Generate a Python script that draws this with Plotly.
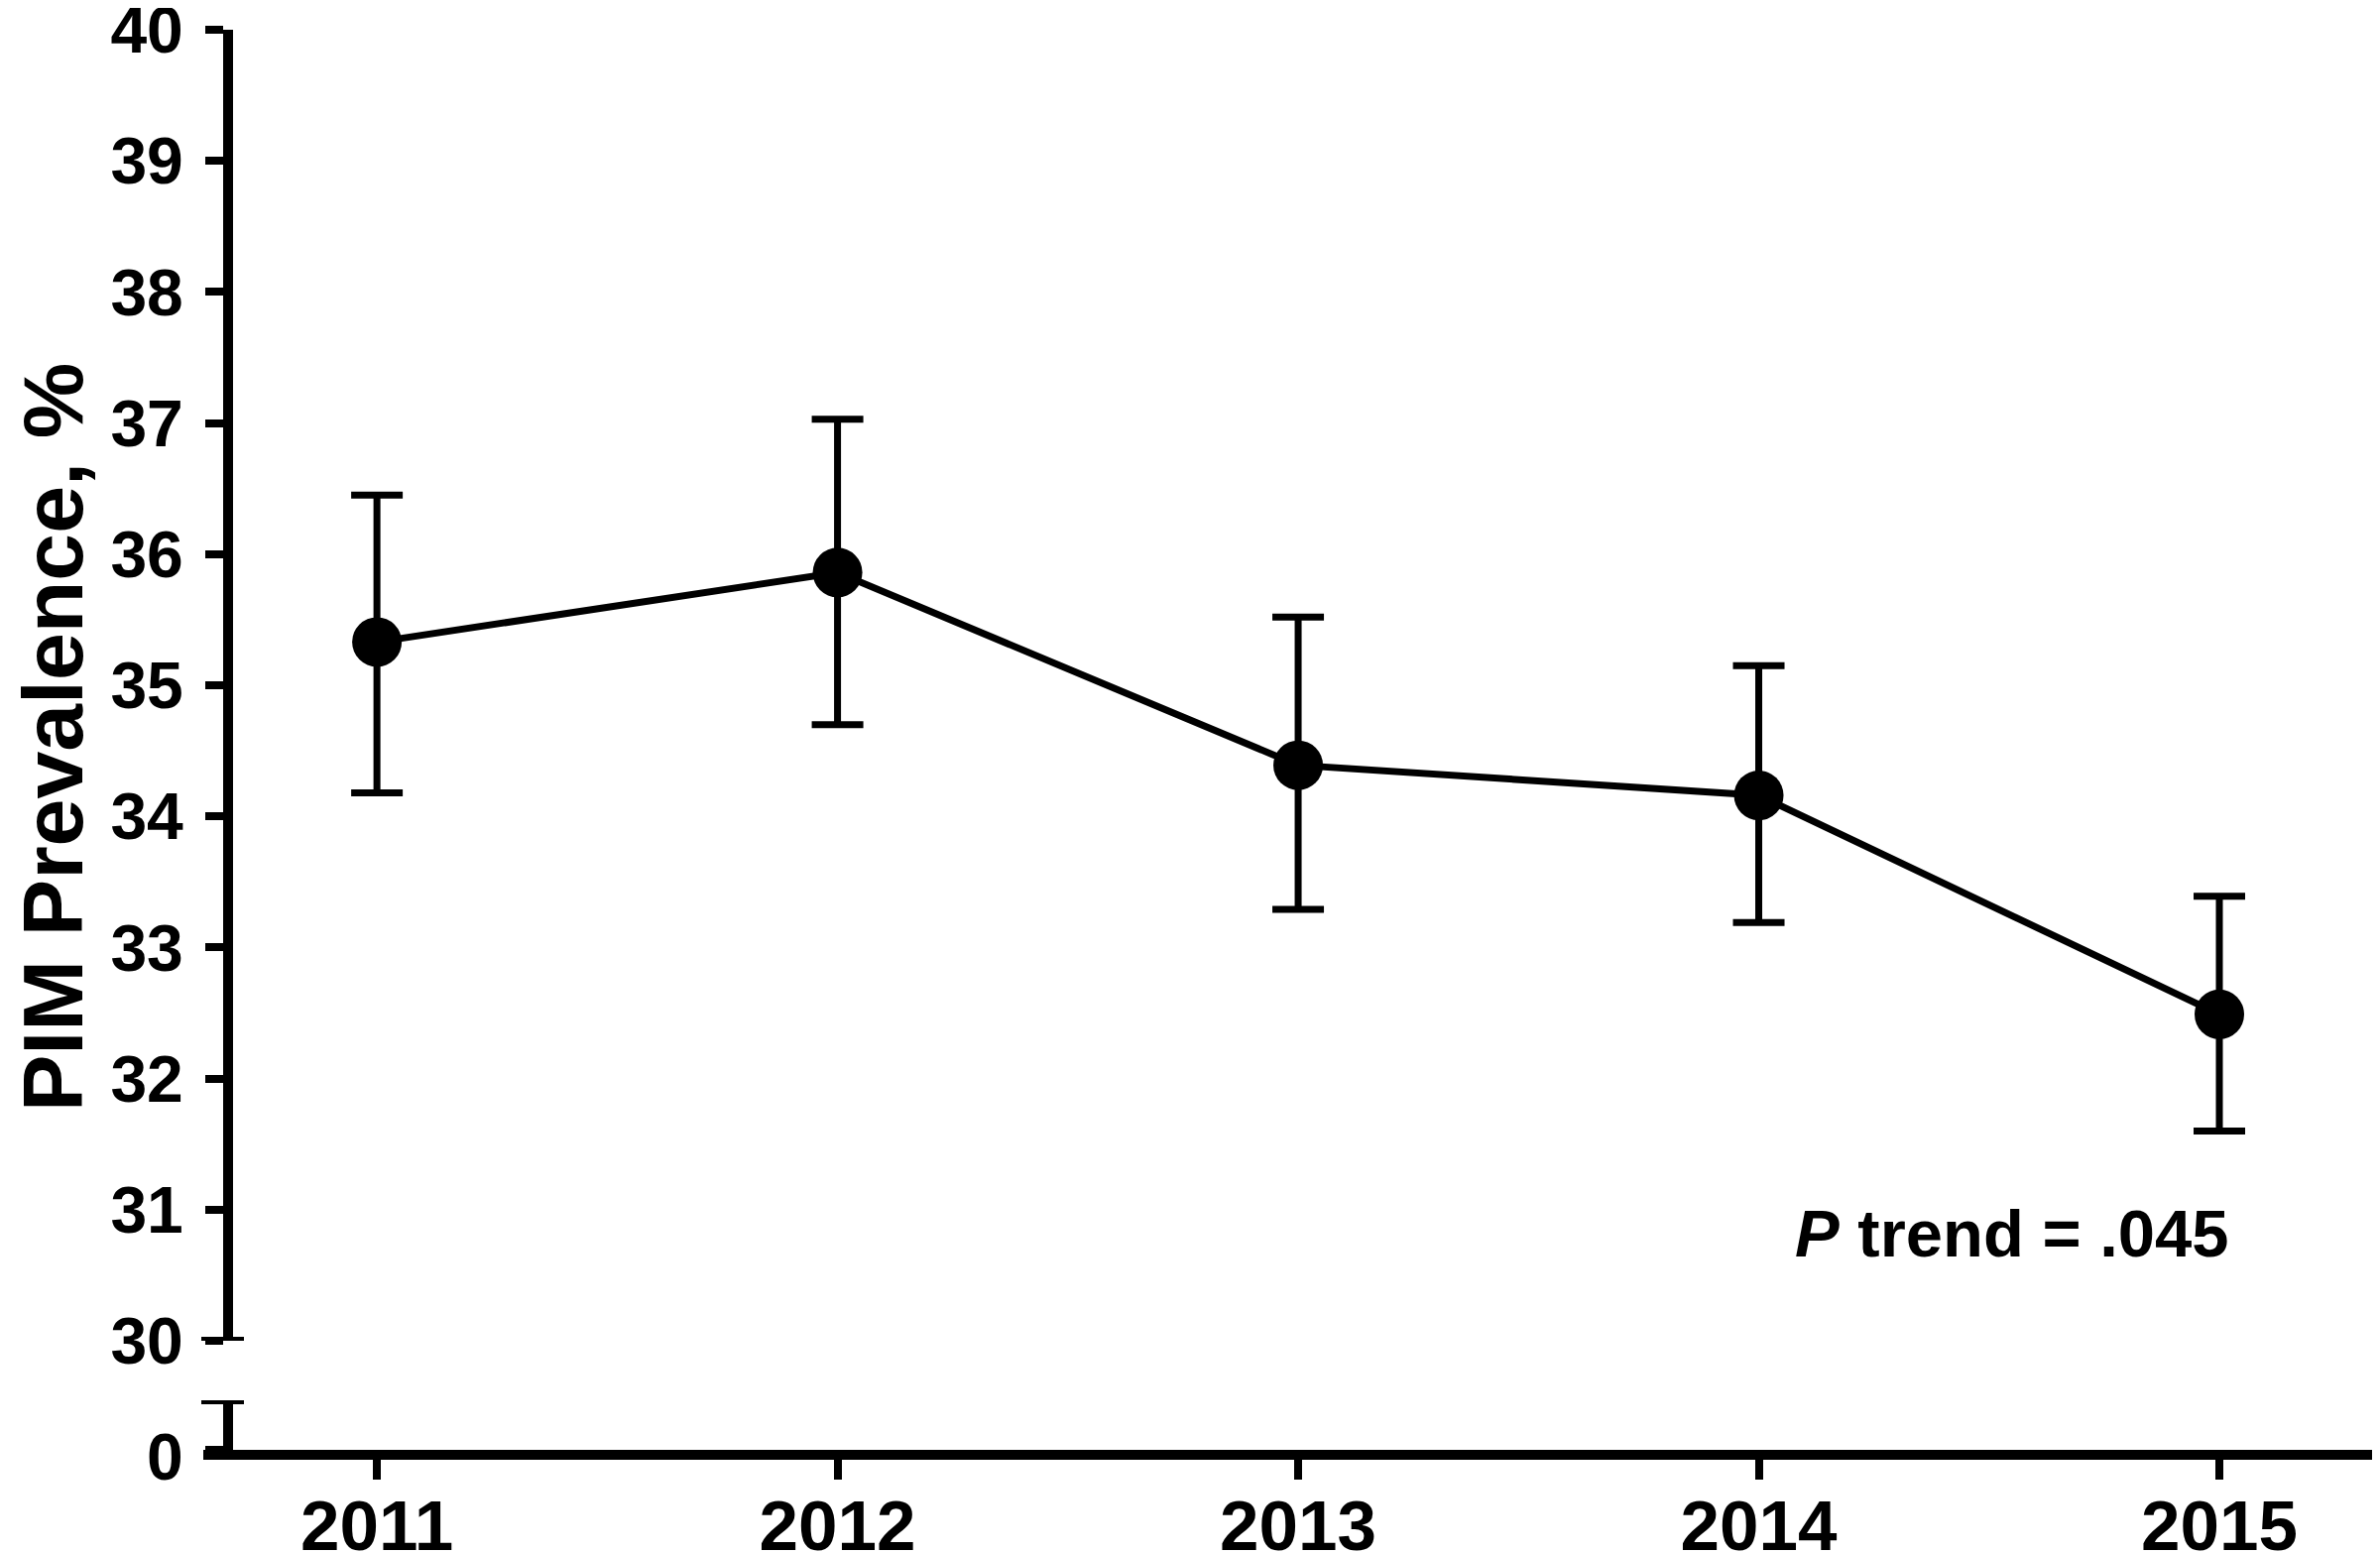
import plotly.graph_objects as go

years = [2011, 2012, 2013, 2014, 2015]
year_labels = ["2011", "2012", "2013", "2014", "2015"]
prevalence = [35.33, 35.86, 34.39, 34.16, 32.49]
ci_upper = [36.45, 37.03, 35.52, 35.15, 33.39]
ci_lower = [34.18, 34.70, 33.29, 33.19, 31.60]
y_upper_ticks = [30, 31, 32, 33, 34, 35, 36, 37, 38, 39, 40]
y_lower_ticks = [0]

# page body has an 8px default margin: layout positions below are page pixels
OFF = 8
W, H = 2400, 1566
ML = 205 - OFF
MR = W - (2395 - OFF)
MT = 30 - OFF
plot_bottom_px = 1462 - OFF
MB = H - plot_bottom_px
pw = W - ML - MR
ph = H - MT - MB
yaxis_px = 230 - OFF
ypos = (yaxis_px - ML) / pw
upper_bottom_px = 1352 - OFF
lower_top_px = 1412 - OFF
up_dom0 = (plot_bottom_px - upper_bottom_px) / ph
low_dom1 = (plot_bottom_px - lower_top_px) / ph
px_per_unit = (upper_bottom_px - MT) / 10.0
low_range_top = (plot_bottom_px - lower_top_px) / px_per_unit

FONT = "Liberation Sans, Arial, sans-serif"

err_plus = [u - v for u, v in zip(ci_upper, prevalence)]
err_minus = [v - l for v, l in zip(prevalence, ci_lower)]

fig = go.Figure()
fig.add_trace(go.Scatter(
    x=years, y=prevalence, xaxis="x", yaxis="y",
    mode="lines+markers",
    line=dict(color="black", width=7),
    marker=dict(color="black", size=50, symbol="circle"),
    error_y=dict(type="data", array=err_plus, arrayminus=err_minus,
                 color="black", thickness=7, width=26),
    showlegend=False,
))
fig.add_trace(go.Scatter(x=[], y=[], xaxis="x", yaxis="y2", showlegend=False))

ytickfont = dict(family=FONT, size=66, color="black", weight="bold")
xtickfont = dict(family=FONT, size=71, color="black", weight="bold")

fig.update_layout(
    width=W, height=H,
    margin=dict(l=ML, r=MR, t=MT, b=MB, autoexpand=False),
    paper_bgcolor="white", plot_bgcolor="white",
    showlegend=False,
    xaxis=dict(
        domain=[0, 1], anchor="y2",
        range=[2010.623, 2015.338],
        tickvals=years, ticktext=year_labels,
        showline=True, linecolor="black", linewidth=10,
        ticks="outside", ticklen=20, tickwidth=8, tickcolor="black",
        showgrid=False, zeroline=False, automargin=False,
        ticklabelstandoff=-14,
        tickfont=xtickfont,
    ),
    yaxis=dict(
        domain=[up_dom0, 1], anchor="free", position=ypos,
        range=[30, 40.0001],
        tickvals=y_upper_ticks, ticktext=[str(v) for v in y_upper_ticks],
        showline=True, linecolor="black", linewidth=10,
        ticks="outside", ticklen=18, tickwidth=8, tickcolor="black",
        showgrid=False, zeroline=False, automargin=False,
        ticklabeloverflow="allow", ticklabelstandoff=9,
        tickfont=ytickfont,
    ),
    yaxis2=dict(
        domain=[0, low_dom1], anchor="free", position=ypos,
        range=[0, low_range_top],
        tickvals=y_lower_ticks, ticktext=[str(v) for v in y_lower_ticks],
        showline=True, linecolor="black", linewidth=10,
        ticks="outside", ticklen=18, tickwidth=8, tickcolor="black",
        showgrid=False, zeroline=False, automargin=False,
        ticklabeloverflow="allow", ticklabelstandoff=9, ticklabelshift=7,
        tickfont=ytickfont,
    ),
)

cap_x0 = (203 - OFF - ML) / pw
cap_x1 = (246 - OFF - ML) / pw
fig.add_shape(type="line", xref="paper", yref="y", x0=cap_x0, x1=cap_x1, y0=30, y1=30,
              line=dict(color="black", width=8))
fig.add_shape(type="line", xref="paper", yref="y2", x0=cap_x0, x1=cap_x1,
              y0=low_range_top, y1=low_range_top,
              line=dict(color="black", width=8))

fig.add_annotation(
    text="<i>P</i> trend = .045", x=2014.55, y=30.82, xref="x", yref="y",
    xanchor="center", yanchor="middle",
    showarrow=False, font=dict(family=FONT, size=67, color="black", weight="bold"),
)
fig.add_annotation(
    text="PIM Prevalence, %", textangle=-90,
    x=(53 - OFF - ML) / pw, y=(plot_bottom_px - (744 - OFF)) / ph,
    xref="paper", yref="paper",
    xanchor="center", yanchor="middle",
    showarrow=False, font=dict(family=FONT, size=86, color="black", weight="bold"),
)

fig.write_html("out.html")
